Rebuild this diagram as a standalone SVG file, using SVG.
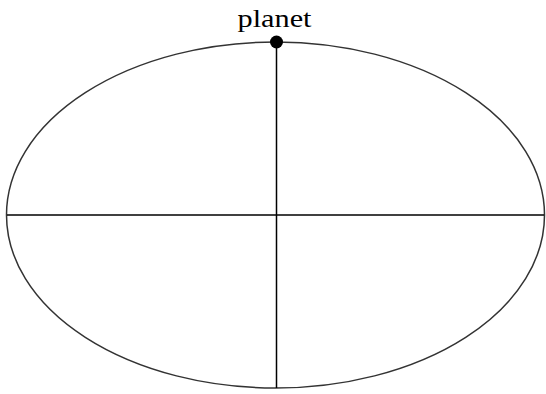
<svg xmlns="http://www.w3.org/2000/svg" width="546" height="394" viewBox="0 0 546 394">
<style>
.ln{stroke:#000;stroke-width:1.5;fill:none}
.orb{stroke:#333;stroke-width:1.5;fill:none}
.lbl{font-family:"Liberation Serif",serif;font-size:25px;fill:#000}
</style>
<rect width="546" height="394" fill="#fff"/>
<g id="orbit"><ellipse class="orb" cx="275.5" cy="215" rx="269" ry="173"/></g>
<g id="connectors">
<line class="ln" x1="7" y1="215" x2="544" y2="215"/>
<line class="ln" x1="276.5" y1="42" x2="276.5" y2="388"/>
</g>
<g id="planet">
<circle cx="276.5" cy="42" r="6.5" fill="#000"/>
<text class="lbl" x="274.5" y="27" text-anchor="middle" textLength="74" lengthAdjust="spacingAndGlyphs">planet</text>
</g>
</svg>
